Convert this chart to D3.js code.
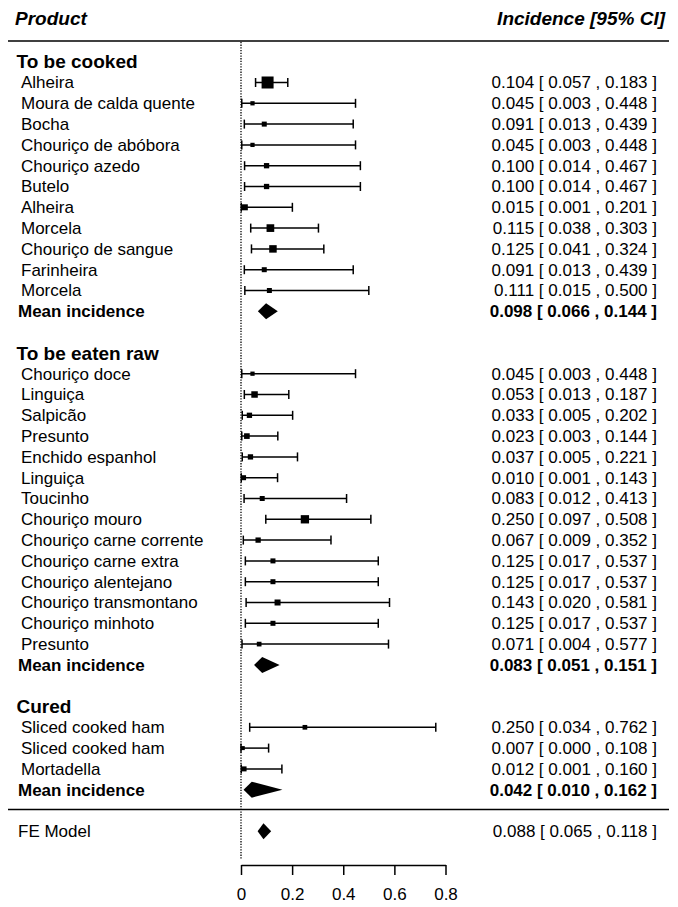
<!DOCTYPE html>
<html>
<head>
<meta charset="utf-8">
<script src="https://cdn.jsdelivr.net/npm/d3@7/dist/d3.min.js"></script>
<style>
  html, body { margin: 0; padding: 0; background: #fff; }
  svg { display: block; }
  text { font-family: "Liberation Sans", Arial, Helvetica, sans-serif; fill: #000; }
</style>
</head>
<body>
<svg id="chart" width="678" height="907"></svg>
<script>
// ---------- DATA ----------
const cookedNames = ["Alheira", "Moura de calda quente", "Bocha", "Chouriço de abóbora", "Chouriço azedo", "Butelo", "Alheira", "Morcela", "Chouriço de sangue", "Farinheira", "Morcela"];
const cookedEst   = [0.104, 0.045, 0.091, 0.045, 0.100, 0.100, 0.015, 0.115, 0.125, 0.091, 0.111];
const cookedLow   = [0.057, 0.003, 0.013, 0.003, 0.014, 0.014, 0.001, 0.038, 0.041, 0.013, 0.015];
const cookedHigh  = [0.183, 0.448, 0.439, 0.448, 0.467, 0.467, 0.201, 0.303, 0.324, 0.439, 0.500];
const cookedWeight = [144, 18, 25, 18, 28, 28, 36, 59, 56, 25, 25];
const cookedMean  = [0.098, 0.066, 0.144];

const rawNames = ["Chouriço doce", "Linguiça", "Salpicão", "Presunto", "Enchido espanhol", "Linguiça", "Toucinho", "Chouriço mouro", "Chouriço carne corrente", "Chouriço carne extra", "Chouriço alentejano", "Chouriço transmontano", "Chouriço minhoto", "Presunto"];
const rawEst   = [0.045, 0.053, 0.033, 0.023, 0.037, 0.010, 0.083, 0.250, 0.067, 0.125, 0.125, 0.143, 0.125, 0.071];
const rawLow   = [0.003, 0.013, 0.005, 0.003, 0.005, 0.001, 0.012, 0.097, 0.009, 0.017, 0.017, 0.020, 0.017, 0.004];
const rawHigh  = [0.448, 0.187, 0.202, 0.144, 0.221, 0.143, 0.413, 0.508, 0.352, 0.537, 0.537, 0.581, 0.537, 0.577];
const rawWeight = [18, 42, 28, 32, 28, 25, 25, 69, 28, 25, 25, 36, 25, 22];
const rawMean  = [0.083, 0.051, 0.151];

const curedNames = ["Sliced cooked ham", "Sliced cooked ham", "Mortadella"];
const curedEst   = [0.250, 0.007, 0.012];
const curedLow   = [0.034, 0.000, 0.001];
const curedHigh  = [0.762, 0.108, 0.160];
const curedWeight = [22, 16, 25];
const curedMean  = [0.042, 0.010, 0.162];

const groupNames = ["To be cooked", "To be eaten raw", "Cured"];
const feModel = [0.088, 0.065, 0.118];
const xTicks = [0, 0.2, 0.4, 0.6, 0.8];

// ---------- LAYOUT ----------
const svg = d3.select("#chart");
const fmt = d3.format(".3f");
const ciText = (e, l, u) => `${fmt(e)} [ ${fmt(l)} , ${fmt(u)} ]`;

const x = d3.scaleLinear().domain([0, 0.8]).range([241, 445.5]);
const y = d3.scaleLinear().domain([0, 1]).range([61.7, 82.5]); // row index -> y
const size = d3.scaleSqrt().domain([0, 144]).range([0, 12]);

// build rows
const groups = [
  {name: groupNames[0], names: cookedNames, est: cookedEst, low: cookedLow, high: cookedHigh, w: cookedWeight, mean: cookedMean},
  {name: groupNames[1], names: rawNames, est: rawEst, low: rawLow, high: rawHigh, w: rawWeight, mean: rawMean},
  {name: groupNames[2], names: curedNames, est: curedEst, low: curedLow, high: curedHigh, w: curedWeight, mean: curedMean}
];
const headers = [], studies = [], means = [];
let r = 0;
groups.forEach(g => {
  headers.push({name: g.name, row: r});
  r++;
  g.names.forEach((n, i) => {
    studies.push({name: n, est: g.est[i], low: g.low[i], high: g.high[i], w: g.w[i], row: r});
    r++;
  });
  means.push({name: "Mean incidence", est: g.mean[0], low: g.mean[1], high: g.mean[2], row: r, bold: true});
  r += 2;
});
const feRow = r;           // 37
const sepRow = r - 1.05;   // separator

// top rule and header
svg.append("line").attr("x1", 8).attr("x2", 669).attr("y1", y(-1)).attr("y2", y(-1))
  .attr("stroke", "#000").attr("stroke-width", 1.5);
svg.append("line").attr("x1", 8).attr("x2", 669).attr("y1", y(sepRow)).attr("y2", y(sepRow))
  .attr("stroke", "#000").attr("stroke-width", 1.5);

svg.append("text").attr("x", 15).attr("y", 18).attr("dy", "0.35em")
  .attr("font-size", 19).attr("font-weight", "bold").attr("font-style", "italic").text("Product");
svg.append("text").attr("x", 665).attr("y", 18).attr("dy", "0.35em").attr("text-anchor", "end")
  .attr("font-size", 19).attr("font-weight", "bold").attr("font-style", "italic").text("Incidence [95% CI]");

// reference dotted line
svg.append("line").attr("x1", x(0)).attr("x2", x(0)).attr("y1", y(-1) + 1).attr("y2", 860)
  .attr("stroke", "#000").attr("stroke-width", 1.3).attr("stroke-dasharray", "1.3,1.4");

// group headers
svg.selectAll("text.grp").data(headers).join("text").attr("class", "grp")
  .attr("x", 16.5).attr("y", d => y(d.row)).attr("dy", "0.35em")
  .attr("font-size", 19).attr("font-weight", "bold").text(d => d.name);

// study labels and CI texts
svg.selectAll("text.lab").data(studies).join("text").attr("class", "lab")
  .attr("x", 21).attr("y", d => y(d.row)).attr("dy", "0.35em")
  .attr("font-size", 17).text(d => d.name);
svg.selectAll("text.ci").data(studies).join("text").attr("class", "ci")
  .attr("x", 657).attr("y", d => y(d.row)).attr("dy", "0.35em").attr("text-anchor", "end")
  .attr("font-size", 17).text(d => ciText(d.est, d.low, d.high));

// study CIs
const sg = svg.append("g").attr("stroke", "#000").attr("stroke-width", 1.5);
sg.selectAll("line.ci").data(studies).join("line")
  .attr("x1", d => x(d.low)).attr("x2", d => x(d.high))
  .attr("y1", d => y(d.row)).attr("y2", d => y(d.row));
sg.selectAll("line.capL").data(studies).join("line")
  .attr("x1", d => x(d.low)).attr("x2", d => x(d.low))
  .attr("y1", d => y(d.row) - 4.5).attr("y2", d => y(d.row) + 4.5);
sg.selectAll("line.capR").data(studies).join("line")
  .attr("x1", d => x(d.high)).attr("x2", d => x(d.high))
  .attr("y1", d => y(d.row) - 4.5).attr("y2", d => y(d.row) + 4.5);
svg.selectAll("rect.pt").data(studies).join("rect")
  .attr("x", d => x(d.est) - size(d.w) / 2).attr("y", d => y(d.row) - size(d.w) / 2)
  .attr("width", d => size(d.w)).attr("height", d => size(d.w)).attr("fill", "#000");

// summaries
const summ = means.concat([{name: "FE Model", est: feModel[0], low: feModel[1], high: feModel[2], row: feRow, bold: false}]);
svg.selectAll("text.slab").data(summ).join("text")
  .attr("x", 18).attr("y", d => y(d.row)).attr("dy", "0.35em")
  .attr("font-size", 17).attr("font-weight", d => d.bold ? "bold" : "normal").text(d => d.name);
svg.selectAll("text.sci").data(summ).join("text")
  .attr("x", 657).attr("y", d => y(d.row)).attr("dy", "0.35em").attr("text-anchor", "end")
  .attr("font-size", 17).attr("font-weight", d => d.bold ? "bold" : "normal")
  .text(d => ciText(d.est, d.low, d.high));
svg.selectAll("path.dia").data(summ).join("path")
  .attr("d", d => {
    const cy = y(d.row), h = 8;
    return `M${x(d.low)},${cy}L${x(d.est)},${cy - h}L${x(d.high)},${cy}L${x(d.est)},${cy + h}Z`;
  })
  .attr("fill", "#000");

// axis
const axis = d3.axisBottom(x).tickValues(xTicks).tickFormat(d3.format("")).tickSize(10).tickSizeOuter(0).tickPadding(13);
const ag = svg.append("g").attr("transform", "translate(0,865)").call(axis);
ag.select(".domain").attr("stroke", "#000").attr("stroke-width", 1.5);
ag.selectAll(".tick line").attr("stroke", "#000").attr("stroke-width", 1.5);
ag.selectAll(".tick text").attr("font-size", 17).attr("fill", "#000")
  .attr("font-family", "'Liberation Sans', Arial, Helvetica, sans-serif");
</script>
</body>
</html>
